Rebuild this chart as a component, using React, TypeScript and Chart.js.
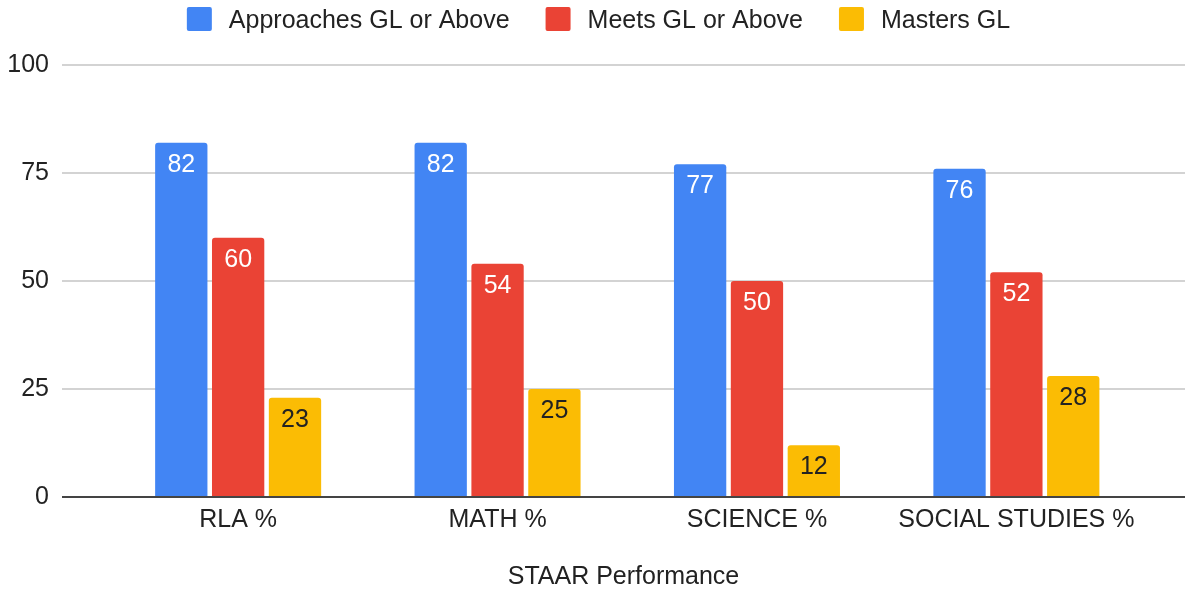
import React, { useEffect, useRef } from "react";
import { Chart, registerables } from "chart.js";

Chart.register(...registerables);

const categories = ["RLA %", "MATH %", "SCIENCE %", "SOCIAL STUDIES %"];
const approaches = [82, 82, 77, 76];
const meets = [60, 54, 50, 52];
const masters = [23, 25, 12, 28];
const seriesNames = ["Approaches GL or Above", "Meets GL or Above", "Masters GL"];
const seriesColors = ["#4285F4", "#EA4335", "#FBBC04"];
const labelColors = ["#ffffff", "#ffffff", "#222222"];
const yTicks = [0, 25, 50, 75, 100];
const xTitle = "STAAR Performance";

const FONT = '"Liberation Sans", Arial, sans-serif';

const legendPlugin = {
  id: "customLegend",
  afterDraw(chart: any) {
    const ctx = chart.ctx;
    ctx.save();
    ctx.font = `25px ${FONT}`;
    const boxW = 25, boxH = 24, gap = 17, itemGap = 36;
    const widths = seriesNames.map((n) => ctx.measureText(n).width);
    const total = widths.reduce((a, w) => a + boxW + gap + w, 0) + itemGap * (seriesNames.length - 1);
    let x = chart.width / 2 + 6 - total / 2;
    seriesNames.forEach((n, i) => {
      ctx.fillStyle = seriesColors[i];
      ctx.beginPath();
      (ctx as any).roundRect(x, 7, boxW, boxH, 2);
      ctx.fill();
      ctx.fillStyle = "#222222";
      ctx.textAlign = "left";
      ctx.textBaseline = "alphabetic";
      ctx.fillText(n, x + boxW + gap, 28);
      x += boxW + gap + widths[i] + itemGap;
    });
    ctx.restore();
  },
};

const baselineAndLabels = {
  id: "baselineAndLabels",
  afterDatasetsDraw(chart: any) {
    const ctx = chart.ctx;
    const { left, right } = chart.chartArea;
    const y0 = chart.scales.y.getPixelForValue(0);
    ctx.save();
    ctx.strokeStyle = "#444444";
    ctx.lineWidth = 2;
    ctx.beginPath();
    ctx.moveTo(left, y0);
    ctx.lineTo(right, y0);
    ctx.stroke();
    ctx.font = `25px ${FONT}`;
    ctx.textAlign = "center";
    ctx.textBaseline = "alphabetic";
    chart.data.datasets.forEach((ds: any, d: number) => {
      const meta = chart.getDatasetMeta(d);
      meta.data.forEach((el: any, i: number) => {
        ctx.fillStyle = labelColors[d];
        ctx.fillText(String(ds.data[i].y), el.x, el.y + 29);
      });
    });
    ctx.restore();
  },
};

export default function App() {
  const ref = useRef<HTMLCanvasElement>(null);
  useEffect(() => {
    if (!ref.current) return;
    const series = [approaches, meets, masters];
    const chart = new Chart(ref.current, {
      type: "bar",
      data: {
        datasets: series.map((vals, d) => ({
          label: seriesNames[d],
          data: vals.map((v, i) => ({ x: i, y: v })),
          backgroundColor: seriesColors[d],
          borderRadius: { topLeft: 3, topRight: 3, bottomLeft: 0, bottomRight: 0 },
          borderSkipped: false,
          categoryPercentage: 0.6575,
          barPercentage: 0.92,
        })),
      },
      options: {
        responsive: false,
        animation: false,
        layout: { padding: { top: 65, left: 7, right: 0, bottom: 0 } },
        plugins: { legend: { display: false }, tooltip: { enabled: false }, title: { display: false } },
        scales: {
          x: {
            type: "linear",
            offset: false,
            min: -0.679,
            max: 3.65,
            afterBuildTicks: (scale: any) => {
              scale.ticks = categories.map((_, i) => ({ value: i }));
            },
            afterFit: (scale: any) => {
              scale.height = 93;
            },
            grid: { display: false, drawTicks: false },
            border: { display: false },
            ticks: {
              autoSkip: false,
              maxRotation: 0,
              padding: 8,
              color: "#222222",
              font: { family: FONT, size: 25, lineHeight: 1.2 },
              callback: (v: any) => categories[v as number] ?? "",
            },
            title: {
              display: true,
              text: xTitle,
              color: "#222222",
              font: { family: FONT, size: 25, lineHeight: 1 },
              padding: { top: 30, bottom: 0 },
            },
          },
          y: {
            min: 0,
            max: 100,
            afterBuildTicks: (scale: any) => {
              scale.ticks = yTicks.map((v) => ({ value: v }));
            },
            afterFit: (scale: any) => {
              scale.width = 55;
            },
            grid: { color: "#d3d3d3", lineWidth: 2, drawTicks: false },
            border: { display: false },
            ticks: {
              padding: 13,
              color: "#222222",
              font: { family: FONT, size: 25 },
            },
          },
        },
      },
      plugins: [legendPlugin, baselineAndLabels],
    });
    return () => chart.destroy();
  }, []);
  return (
    <div style={{ position: "fixed", left: 0, top: 0, width: 1185, height: 590, background: "#fff" }}>
      <canvas ref={ref} width={1185} height={590} style={{ display: "block", width: 1185, height: 590 }} />
    </div>
  );
}
